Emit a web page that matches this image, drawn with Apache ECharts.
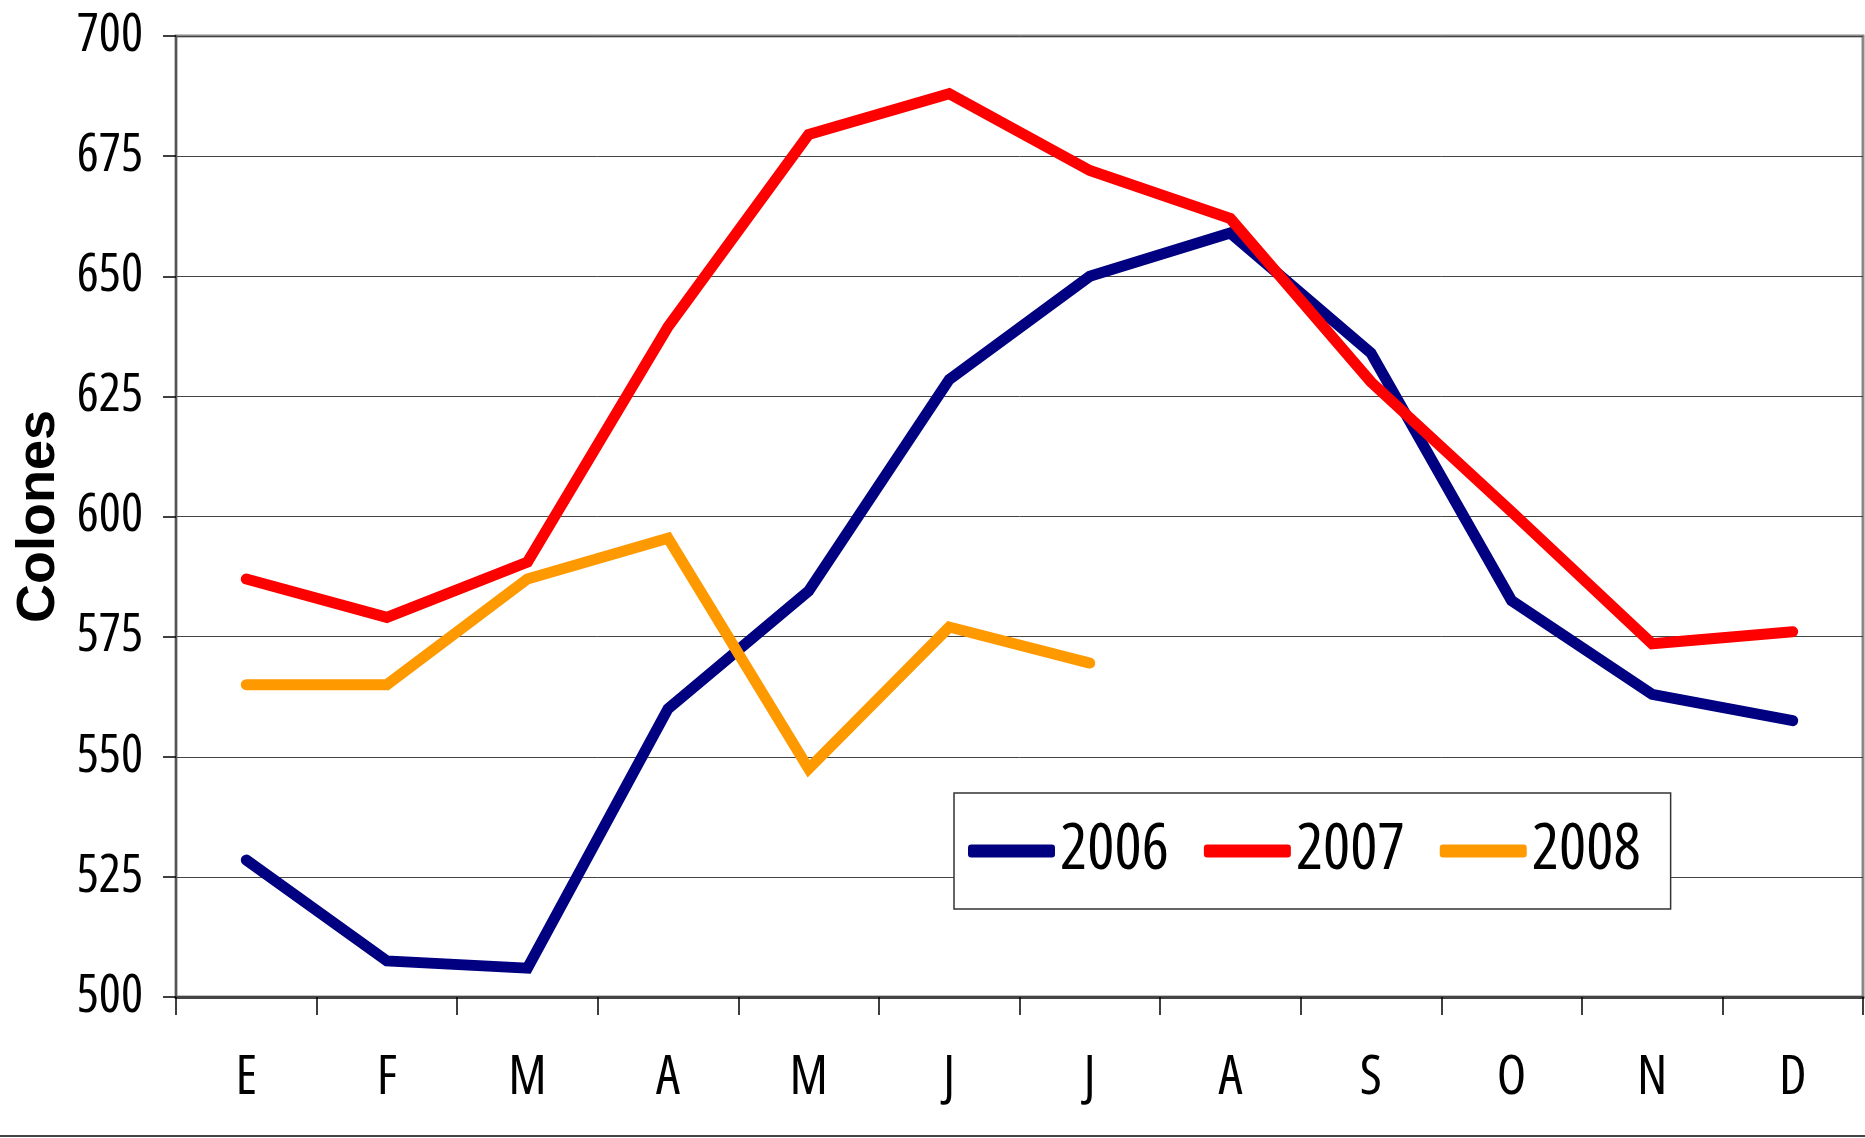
<!DOCTYPE html>
<html>
<head>
<meta charset="utf-8">
<script src="https://cdn.jsdelivr.net/npm/echarts@6/dist/echarts.min.js"></script>
<style>
  html, body { margin: 0; padding: 0; background: #fff; }
  #chart { width: 1865px; height: 1138px; }
</style>
</head>
<body>
<div id="chart"></div>
<script>
// meses
const months = ['E', 'F', 'M', 'A', 'M', 'J', 'J', 'A', 'S', 'O', 'N', 'D'];
const years = ['2006', '2007', '2008'];
const colors = ['#000080', '#FF0000', '#FF9900'];
// valores en colones
const s2006 = [528.5, 507.5, 506, 560, 584.5, 628.5, 650, 659, 634, 582.5, 563, 557.5];
const s2007 = [587, 579, 590.5, 639.5, 679.5, 688, 672, 662, 628, 601, 573.5, 576];
const s2008 = [565, 565, 587, 595.5, 547.5, 577, 569.5];

// Open Sans estrecha (font-stretch en el shorthand) para imitar Arial Narrow
const narrow = '"Open Sans", sans-serif';
const narrowWeight = 'condensed';

let myChart = echarts.init(document.getElementById('chart'));

function lineSeries(name, data, color) {
  return {
    name: name,
    type: 'line',
    data: data,
    symbol: 'none',
    color: color,
    lineStyle: {width: 11, color: color, cap: 'round', join: 'miter'},
    emphasis: {disabled: true}
  };
}

myChart.setOption({
  animation: false,
  backgroundColor: '#fff',
  grid: {
    left: 176, right: 2, top: 36, bottom: 141,
    containLabel: false,
    outerBoundsMode: 'none',
    show: true, borderColor: '#888', borderWidth: 3
  },
  legend: {
    left: 954, top: 793,
    padding: [26, 30, 26, 14],
    itemWidth: 87, itemHeight: 13, itemGap: 35,
    borderColor: '#333', borderWidth: 1.5,
    backgroundColor: '#fff',
    textStyle: {fontFamily: narrow, fontWeight: narrowWeight, fontSize: 64, color: '#000', lineHeight: 64},
    data: years.map((y, i) => ({name: y, icon: 'roundRect', itemStyle: {color: colors[i]}}))
  },
  xAxis: {
    type: 'category',
    data: months,
    boundaryGap: true,
    axisLine: {lineStyle: {color: '#444', width: 3}},
    axisTick: {show: true, interval: 0, length: 18, lineStyle: {color: '#000', width: 1.5}},
    axisLabel: {margin: 55, fontFamily: narrow, fontWeight: narrowWeight, fontSize: 54, color: '#000'}
  },
  yAxis: {
    type: 'value',
    min: 500, max: 700, interval: 25,
    name: 'Colones',
    nameLocation: 'middle',
    nameGap: 100,
    nameTextStyle: {fontFamily: '"Liberation Sans", Arial, sans-serif', fontWeight: 'bold', fontSize: 54, color: '#000'},
    axisLine: {show: true, lineStyle: {color: '#555', width: 2}},
    axisTick: {show: true, inside: false, length: 13, lineStyle: {color: '#000', width: 1.5}},
    axisLabel: {margin: 33, fontFamily: narrow, fontWeight: narrowWeight, fontSize: 52, color: '#000'},
    splitLine: {show: true, lineStyle: {color: '#444', width: 1}}
  },
  graphic: [{
    type: 'line',
    shape: {x1: 0, y1: 1136, x2: 1865, y2: 1136},
    style: {stroke: '#444', lineWidth: 2},
    silent: true
  }],
  series: [
    lineSeries(years[0], s2006, colors[0]),
    lineSeries(years[1], s2007, colors[1]),
    lineSeries(years[2], s2008, colors[2])
  ]
});
</script>
</body>
</html>
